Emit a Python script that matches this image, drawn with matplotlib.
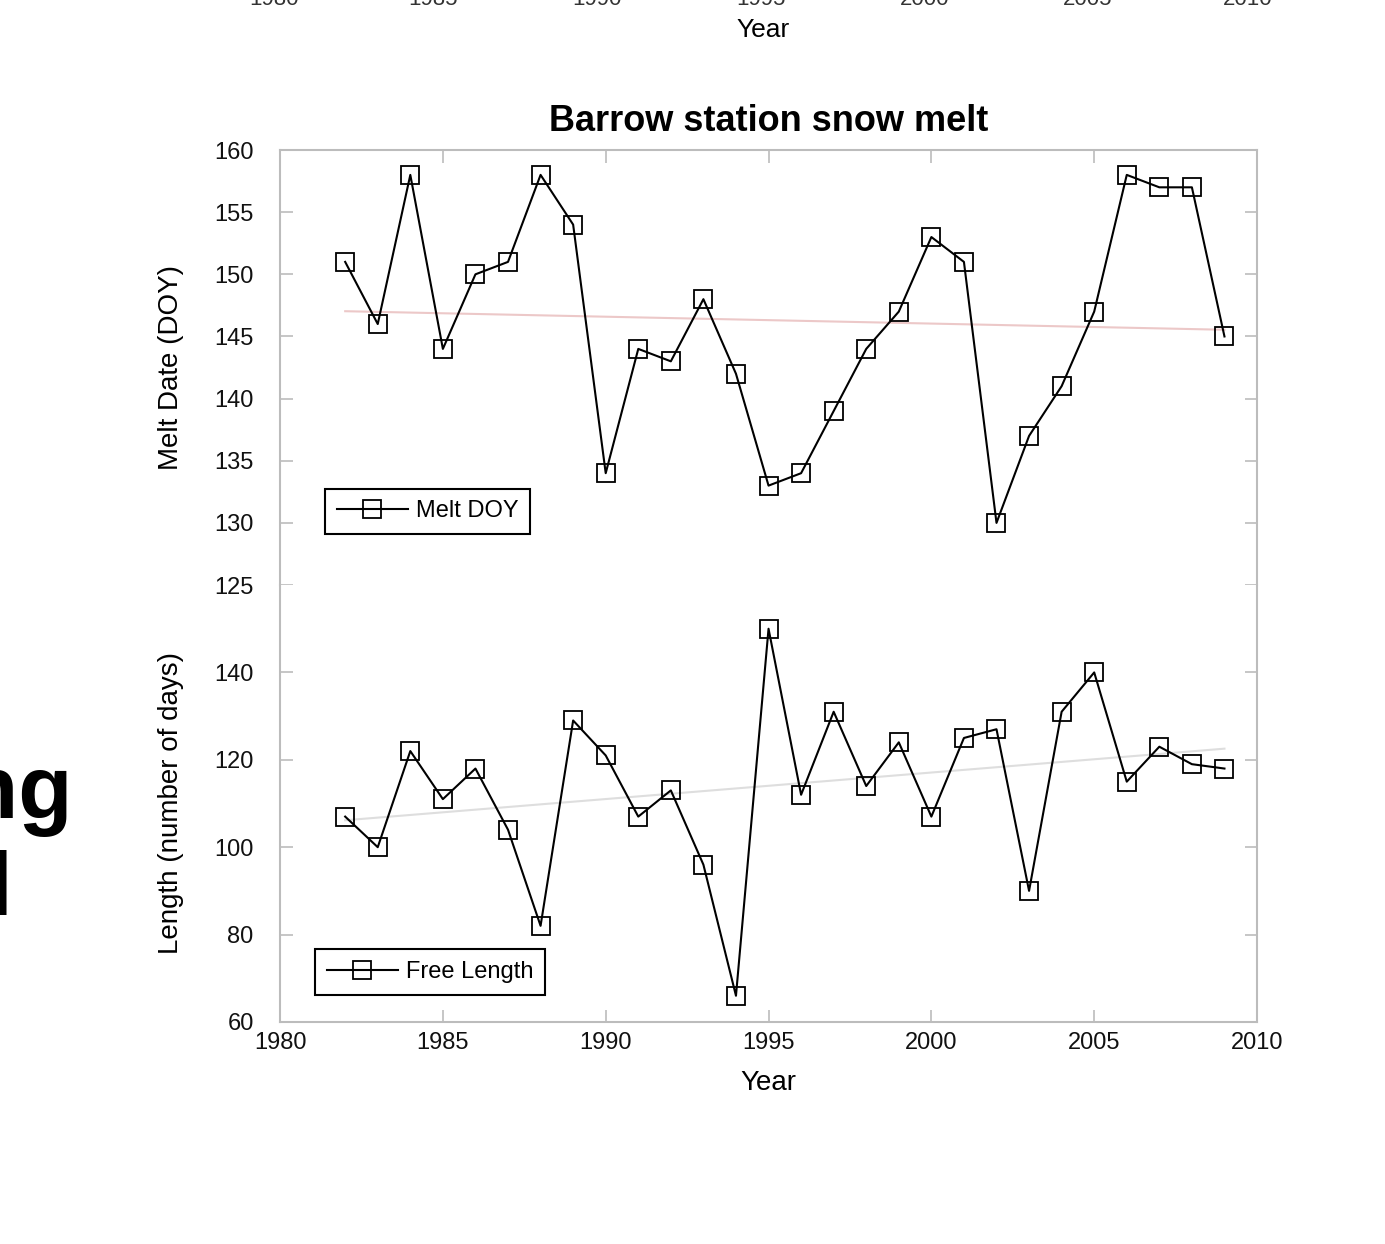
import numpy as np
import matplotlib.pyplot as plt

plt.rcParams['font.family'] = ['Liberation Sans', 'DejaVu Sans']

# Data
years = np.arange(1982, 2010)
melt_doy = [151, 146, 158, 144, 150, 151, 158, 154, 134, 144, 143, 148, 142, 133,
            134, 139, 144, 147, 153, 151, 130, 137, 141, 147, 158, 157, 157, 145]
free_length = [107, 100, 122, 111, 118, 104, 82, 129, 121, 107, 113, 96, 66, 150,
               112, 131, 114, 124, 107, 125, 127, 90, 131, 140, 115, 123, 119, 118]

top_yticks = [125, 130, 135, 140, 145, 150, 155, 160]
bottom_yticks = [60, 80, 100, 120, 140]
xticks = [1980, 1985, 1990, 1995, 2000, 2005, 2010]

frame_color = '#bcbcbc'

fig = plt.figure(figsize=(13.85, 12.44), dpi=100)

# Two stacked panels sharing a single frame
ax1 = fig.add_axes([0.2022, 0.5297, 0.7054, 0.3497])
ax2 = fig.add_axes([0.2022, 0.1785, 0.7054, 0.3512], sharex=ax1)

mk = dict(marker='s', markersize=12.5, markerfacecolor='none', markeredgecolor='black',
          markeredgewidth=1.3, color='black', linewidth=1.5)

# Linear trends (fitted from the data)
p1 = np.polyfit(years, melt_doy, 1)
p2 = np.polyfit(years, free_length, 1)
ax1.plot(years, np.polyval(p1, years), color='#ecc8c8', linewidth=1.5, zorder=1)
ax2.plot(years, np.polyval(p2, years), color='#dedede', linewidth=1.5, zorder=1)

ax1.plot(years, melt_doy, label='Melt DOY', **mk)
ax2.plot(years, free_length, label='Free Length', **mk)

ax1.set_ylim(125, 160)
ax1.set_yticks(top_yticks)
ax2.set_ylim(60, 160)
ax2.set_yticks(bottom_yticks)
ax2.set_xlim(1980, 2010)
ax2.set_xticks(xticks)

for ax in (ax1, ax2):
    for s in ax.spines.values():
        s.set_color(frame_color)
        s.set_linewidth(1.5)
    ax.tick_params(direction='in', length=9, width=1.2, color=frame_color,
                   labelsize=17, labelcolor='#111111', right=True)
    ax.tick_params(axis='y', pad=19)
    ax.tick_params(axis='x', pad=7)
ax1.spines['bottom'].set_visible(False)
ax2.spines['top'].set_visible(False)
ax1.tick_params(axis='x', top=True, bottom=False, labelbottom=False)
ax2.tick_params(axis='x', top=False, bottom=True)

ax1.set_title('Barrow station snow melt', fontsize=26, fontweight='bold', pad=14)
ax1.set_ylabel('Melt Date (DOY)', fontsize=20, labelpad=22)
ax2.set_ylabel('Length (number of days)', fontsize=20, labelpad=22)
ax2.set_xlabel('Year', fontsize=20, labelpad=12)

leg_kw = dict(loc='lower left', fancybox=False, edgecolor='black', framealpha=1,
              fontsize=17, handlelength=3, handletextpad=0.35, borderaxespad=0,
              borderpad=0.5)
l1 = ax1.legend(bbox_to_anchor=(0.046, 0.117), **leg_kw)
l2 = ax2.legend(bbox_to_anchor=(0.036, 0.062), **leg_kw)
for l in (l1, l2):
    l.get_frame().set_linewidth(1.5)

# Remains of the neighbouring figure above and of cut-off text on the left
top_labels = ['1980', '1985', '1990', '1995', '2000', '2005', '2010']
top_x = [274, 433, 597, 761, 925, 1088, 1248]
for lab, px in zip(top_labels, top_x):
    fig.text(px / 1385, 1 - 5 / 1244, lab, ha='center', va='baseline', fontsize=16, color='#333333')
fig.text(763 / 1385, 1 - 30 / 1244, 'Year', ha='center', va='center', fontsize=19)
fig.text(72 / 1385, 1 - 818 / 1244, 'ng', ha='right', va='baseline', fontsize=64, fontweight='bold')
fig.text(13 / 1385, 1 - 915 / 1244, 'l', ha='right', va='baseline', fontsize=64, fontweight='bold')

plt.savefig('out.png', dpi=100)
